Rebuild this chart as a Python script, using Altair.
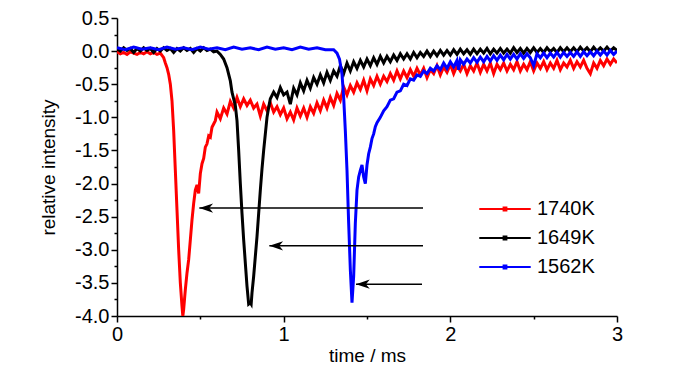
import altair as alt
import pandas as pd

series_names = ["1740K", "1649K", "1562K"]
series_colors = ["#FF0000", "#000000", "#0000FF"]

# (time in ms, relative intensity)
red_points = [
    (0.00, -0.01), (0.02, -0.04), (0.04, -0.02), (0.06, -0.05), (0.08, -0.01), (0.10, -0.03), (0.12, -0.05),
    (0.14, -0.02), (0.16, -0.04), (0.18, -0.01), (0.20, -0.04), (0.22, -0.02), (0.24, -0.05), (0.26, -0.03),
    (0.28, -0.10), (0.29, -0.18), (0.30, -0.25), (0.31, -0.35), (0.32, -0.50), (0.33, -0.75), (0.34, -1.20),
    (0.35, -1.80), (0.36, -2.40), (0.37, -3.00), (0.38, -3.50), (0.39, -3.85), (0.395, -4.00), (0.40, -3.90),
    (0.405, -3.75), (0.41, -3.60), (0.42, -3.35), (0.43, -3.15), (0.44, -2.85), (0.45, -2.55), (0.46, -2.30),
    (0.47, -2.10), (0.48, -2.02), (0.49, -2.15), (0.50, -1.85), (0.51, -1.70), (0.52, -1.62), (0.53, -1.45),
    (0.54, -1.40), (0.55, -1.28), (0.56, -1.30), (0.57, -1.15), (0.58, -1.10), (0.59, -1.05),
    (0.60, -0.92), (0.62, -1.02), (0.64, -0.86), (0.66, -0.95), (0.68, -0.76), (0.70, -0.86), (0.72, -0.70),
    (0.74, -0.84), (0.76, -0.72), (0.78, -0.82), (0.80, -0.74), (0.82, -0.86), (0.84, -0.80), (0.86, -0.98),
    (0.88, -0.80), (0.90, -0.90), (0.92, -0.78), (0.94, -0.92), (0.96, -0.84), (0.98, -0.96), (1.00, -0.86),
    (1.02, -1.02), (1.04, -0.92), (1.06, -1.04), (1.08, -0.86), (1.10, -0.98), (1.12, -0.86), (1.14, -1.00),
    (1.16, -0.84), (1.18, -0.94), (1.20, -0.78), (1.22, -0.90), (1.24, -0.74), (1.26, -0.86), (1.28, -0.70),
    (1.30, -0.82), (1.32, -0.64), (1.34, -0.74), (1.36, -0.54), (1.38, -0.66), (1.40, -0.52), (1.42, -0.62),
    (1.44, -0.48), (1.46, -0.58), (1.48, -0.44), (1.50, -0.60), (1.52, -0.42), (1.54, -0.52), (1.56, -0.38),
    (1.58, -0.50), (1.60, -0.38), (1.62, -0.46), (1.64, -0.34), (1.66, -0.44), (1.68, -0.30), (1.70, -0.42),
    (1.72, -0.30), (1.74, -0.40), (1.76, -0.28), (1.78, -0.38), (1.80, -0.26), (1.82, -0.36), (1.84, -0.26),
    (1.86, -0.40), (1.88, -0.28), (1.90, -0.34), (1.92, -0.22), (1.94, -0.36), (1.96, -0.24), (1.98, -0.32),
    (2.00, -0.20), (2.02, -0.34), (2.04, -0.22), (2.06, -0.30), (2.08, -0.20), (2.10, -0.34), (2.12, -0.22),
    (2.14, -0.30), (2.16, -0.18), (2.18, -0.32), (2.20, -0.20), (2.22, -0.30), (2.24, -0.18), (2.26, -0.34),
    (2.28, -0.20), (2.30, -0.28), (2.32, -0.18), (2.34, -0.30), (2.36, -0.20), (2.38, -0.28), (2.40, -0.16),
    (2.42, -0.30), (2.44, -0.20), (2.46, -0.28), (2.48, -0.16), (2.50, -0.30), (2.52, -0.18), (2.54, -0.26),
    (2.56, -0.16), (2.58, -0.28), (2.60, -0.18), (2.62, -0.26), (2.64, -0.14), (2.66, -0.28), (2.68, -0.18),
    (2.70, -0.24), (2.72, -0.14), (2.74, -0.26), (2.76, -0.16), (2.78, -0.24), (2.80, -0.14), (2.82, -0.26),
    (2.84, -0.34), (2.86, -0.18), (2.88, -0.26), (2.90, -0.14), (2.92, -0.22), (2.94, -0.12), (2.96, -0.20),
    (2.98, -0.12), (3.00, -0.18),
]

black_points = [
    (0.00, 0.04), (0.02, 0.00), (0.04, 0.05), (0.06, 0.01), (0.08, 0.04), (0.10, -0.02), (0.12, 0.04),
    (0.14, 0.00), (0.16, 0.05), (0.18, 0.01), (0.20, 0.04), (0.22, -0.02), (0.24, 0.04), (0.26, 0.00),
    (0.28, 0.05), (0.30, 0.01), (0.32, 0.04), (0.34, -0.02), (0.36, 0.04), (0.38, 0.00), (0.40, 0.05),
    (0.42, 0.01), (0.44, 0.04), (0.46, -0.02), (0.48, 0.04), (0.50, 0.00), (0.52, 0.05), (0.54, 0.01),
    (0.56, 0.03), (0.58, -0.01), (0.60, 0.00),
    (0.62, -0.05), (0.64, -0.12), (0.66, -0.25), (0.68, -0.45), (0.69, -0.62), (0.70, -0.72), (0.71, -0.82),
    (0.72, -1.05), (0.73, -1.50), (0.74, -2.00), (0.75, -2.45), (0.76, -2.85), (0.77, -3.20), (0.78, -3.55),
    (0.79, -3.82), (0.80, -3.80), (0.805, -3.82), (0.81, -3.65), (0.82, -3.40), (0.83, -3.10), (0.84, -2.80),
    (0.85, -2.45), (0.86, -2.10), (0.87, -1.78), (0.88, -1.50), (0.89, -1.25), (0.90, -1.00), (0.91, -0.85),
    (0.92, -0.72),
    (0.94, -0.62), (0.96, -0.70), (0.98, -0.55), (1.00, -0.66), (1.02, -0.62), (1.04, -0.80), (1.06, -0.56),
    (1.08, -0.66), (1.10, -0.48), (1.12, -0.60), (1.14, -0.44), (1.16, -0.56), (1.18, -0.40), (1.20, -0.50),
    (1.22, -0.36), (1.24, -0.48), (1.26, -0.32), (1.28, -0.44), (1.30, -0.30), (1.32, -0.38), (1.34, -0.22),
    (1.36, -0.34), (1.38, -0.18), (1.40, -0.30), (1.42, -0.16), (1.44, -0.26), (1.46, -0.14), (1.48, -0.24),
    (1.50, -0.12), (1.52, -0.22), (1.54, -0.10), (1.56, -0.20), (1.58, -0.08), (1.60, -0.18), (1.62, -0.08),
    (1.64, -0.16), (1.66, -0.06), (1.68, -0.14), (1.70, -0.04), (1.72, -0.12), (1.74, -0.04), (1.76, -0.12),
    (1.78, -0.02), (1.80, -0.10), (1.82, -0.02), (1.84, -0.08), (1.86, 0.00), (1.88, -0.08), (1.90, 0.00),
    (1.92, -0.07), (1.94, 0.01), (1.96, -0.06), (1.98, 0.01), (2.00, -0.06), (2.02, 0.02), (2.04, -0.05),
    (2.06, 0.03), (2.08, -0.04), (2.10, 0.02), (2.12, -0.05), (2.14, 0.03), (2.16, -0.04), (2.18, 0.03),
    (2.20, -0.03), (2.22, 0.04), (2.24, -0.04), (2.26, 0.03), (2.28, -0.03), (2.30, 0.04), (2.32, -0.03),
    (2.34, 0.03), (2.36, -0.03), (2.38, 0.05), (2.40, -0.02), (2.42, 0.04), (2.44, -0.03), (2.46, 0.04),
    (2.48, -0.02), (2.50, 0.05), (2.52, -0.02), (2.54, 0.04), (2.56, -0.02), (2.58, 0.05), (2.60, -0.01),
    (2.62, 0.04), (2.64, -0.02), (2.66, 0.05), (2.68, -0.01), (2.70, 0.05), (2.72, -0.01), (2.74, 0.05),
    (2.76, -0.01), (2.78, 0.06), (2.80, 0.00), (2.82, 0.05), (2.84, -0.01), (2.86, 0.06), (2.88, 0.00),
    (2.90, 0.05), (2.92, 0.00), (2.94, 0.06), (2.96, 0.00), (2.98, 0.05), (3.00, 0.01),
]

blue_points = [
    (0.00, 0.05), (0.05, 0.02), (0.10, 0.06), (0.15, 0.03), (0.20, 0.05), (0.25, 0.02), (0.30, 0.06),
    (0.35, 0.03), (0.40, 0.05), (0.45, 0.02), (0.50, 0.06), (0.55, 0.03), (0.60, 0.05), (0.65, 0.02),
    (0.70, 0.06), (0.75, 0.03), (0.80, 0.05), (0.85, 0.02), (0.90, 0.06), (0.95, 0.03), (1.00, 0.05),
    (1.05, 0.02), (1.10, 0.06), (1.15, 0.03), (1.20, 0.05), (1.25, 0.02), (1.30, 0.02),
    (1.32, -0.03), (1.335, -0.12), (1.35, -0.35), (1.36, -0.70), (1.37, -1.20), (1.38, -1.80), (1.39, -2.60),
    (1.40, -3.30), (1.41, -3.80), (1.42, -3.40), (1.43, -2.60), (1.44, -2.10), (1.45, -1.90), (1.46, -1.80),
    (1.47, -1.72), (1.48, -1.90), (1.49, -2.00), (1.50, -1.72), (1.51, -1.55), (1.52, -1.45), (1.53, -1.32),
    (1.54, -1.25), (1.55, -1.14),
    (1.56, -1.08), (1.58, -1.00), (1.60, -0.90), (1.62, -0.84), (1.64, -0.74), (1.66, -0.72), (1.68, -0.62),
    (1.70, -0.60), (1.72, -0.50), (1.74, -0.52), (1.76, -0.42), (1.78, -0.44), (1.80, -0.36), (1.82, -0.38),
    (1.84, -0.30), (1.86, -0.34), (1.88, -0.26), (1.90, -0.30), (1.92, -0.22), (1.94, -0.28), (1.96, -0.18),
    (1.98, -0.26), (2.00, -0.16), (2.02, -0.24), (2.04, -0.14), (2.05, -0.28), (2.06, -0.13), (2.08, -0.20),
    (2.10, -0.12), (2.12, -0.18), (2.14, -0.10), (2.16, -0.17), (2.18, -0.09), (2.20, -0.16), (2.22, -0.08),
    (2.24, -0.15), (2.26, -0.07), (2.28, -0.14), (2.30, -0.06), (2.32, -0.13), (2.34, -0.05), (2.36, -0.12),
    (2.38, -0.05), (2.40, -0.12), (2.42, -0.04), (2.44, -0.11), (2.46, -0.04), (2.48, -0.10), (2.50, -0.22),
    (2.52, -0.04), (2.54, -0.10), (2.56, -0.03), (2.58, -0.10), (2.60, -0.03), (2.62, -0.09), (2.64, -0.02),
    (2.66, -0.09), (2.68, -0.02), (2.70, -0.08), (2.72, -0.02), (2.74, -0.08), (2.76, -0.01), (2.78, -0.08),
    (2.80, -0.01), (2.82, -0.07), (2.84, -0.01), (2.86, -0.07), (2.88, 0.00), (2.90, -0.06), (2.92, 0.00),
    (2.94, -0.06), (2.96, 0.01), (2.98, -0.05), (3.00, 0.00),
]

arrow_level = [-2.37, -2.94, -3.52]
arrow_head_time = [0.494, 0.914, 1.434]
arrow_tail_time = [1.836, 1.836, 1.83]

x_major_ticks = [0, 1, 2, 3]
x_minor_ticks = [0.5, 1.5, 2.5]
y_major_ticks = [-4.0, -3.5, -3.0, -2.5, -2.0, -1.5, -1.0, -0.5, 0.0, 0.5]
y_minor_ticks = [-3.75, -3.25, -2.75, -2.25, -1.75, -1.25, -0.75, -0.25, 0.25]

frames = []
for name, pts in [("1740K", red_points), ("1649K", black_points), ("1562K", blue_points)]:
    frames.append(pd.DataFrame({"time": [p[0] for p in pts], "value": [p[1] for p in pts], "series": name}))
lines_df = pd.concat(frames, ignore_index=True)

arrows_df = pd.DataFrame({"level": arrow_level, "head": arrow_head_time, "tail": arrow_tail_time})

FONT = "Liberation Sans"

x_scale = alt.Scale(domain=[0, 3], nice=False, zero=False)
y_scale = alt.Scale(domain=[-4, 0.5], nice=False, zero=False)

x_axis = alt.Axis(
    title="time / ms", values=x_major_ticks, grid=False, format="d", tickSize=6,
    labelOverlap=False, labelFlush=False, labelPadding=2, titlePadding=2, orient="bottom",
)
y_axis = alt.Axis(
    title="relative intensity", values=y_major_ticks, grid=False, tickSize=6,
    labelExpr="(datum.value < 0 ? '-' : '') + format(abs(datum.value), '.1f')",
    labelOverlap=False, labelFlush=False, labelPadding=2, titlePadding=16, orient="left",
)
x_minor_axis = alt.Axis(
    title=None, values=x_minor_ticks, grid=False, labels=False, domain=False, tickSize=3, orient="bottom",
)
y_minor_axis = alt.Axis(
    title=None, values=y_minor_ticks, grid=False, labels=False, domain=False, tickSize=3, orient="left",
)

color_scale = alt.Scale(domain=series_names, range=series_colors)

layers = []
for name in series_names:
    layers.append(
        alt.Chart(lines_df).transform_filter(alt.datum.series == name).mark_line(
            strokeWidth=3, clip=True
        ).encode(
            x=alt.X("time:Q", scale=x_scale, axis=x_axis),
            y=alt.Y("value:Q", scale=y_scale, axis=y_axis),
            color=alt.Color(
                "series:N", scale=color_scale, sort=series_names,
                legend=alt.Legend(
                    title=None, orient="none", legendX=378, legendY=181, padding=0,
                    symbolType="M-4.6,0H4.6M-0.25,-0.25H0.25V0.25H-0.25Z",
                    symbolSize=125, symbolStrokeWidth=2, labelOffset=22,
                    labelFont=FONT, labelFontSize=20, labelColor="black", rowPadding=9,
                ),
            ),
        )
    )
lines_layer = alt.layer(*layers)

minor_tick_layer = alt.Chart(arrows_df).mark_point(opacity=0).encode(
    x=alt.X("head:Q", scale=x_scale, axis=x_minor_axis),
    y=alt.Y("level:Q", scale=y_scale, axis=y_minor_axis),
)

arrow_lines = alt.Chart(arrows_df).mark_rule(color="black", strokeWidth=1.5).encode(
    x=alt.X("head:Q", scale=x_scale, axis=None), x2="tail:Q",
    y=alt.Y("level:Q", scale=y_scale, axis=None),
)
arrow_heads = alt.Chart(arrows_df).mark_point(
    shape="M0,0L1.25,-0.42L0.9,0L1.25,0.42Z", size=484, filled=True, color="black", opacity=1,
    strokeWidth=0.5,
).encode(
    x=alt.X("head:Q", scale=x_scale, axis=None),
    y=alt.Y("level:Q", scale=y_scale, axis=None),
)

chart = alt.layer(lines_layer, minor_tick_layer, arrow_lines, arrow_heads).resolve_axis(
    x="independent", y="independent"
).properties(
    width=500, height=298,
    autosize=alt.AutoSizeParams(type="none"),
    padding={"left": 109, "top": 10, "right": 75, "bottom": 50},
).configure_view(stroke=None).configure_axis(
    domainColor="black", domainWidth=1.5, tickColor="black", tickWidth=1.5,
    labelFont=FONT, labelFontSize=20, labelColor="black",
    titleFont=FONT, titleFontSize=19, titleFontWeight="normal", titleColor="black",
)

chart.save("out.html", embed_options={"renderer": "svg", "actions": False})
